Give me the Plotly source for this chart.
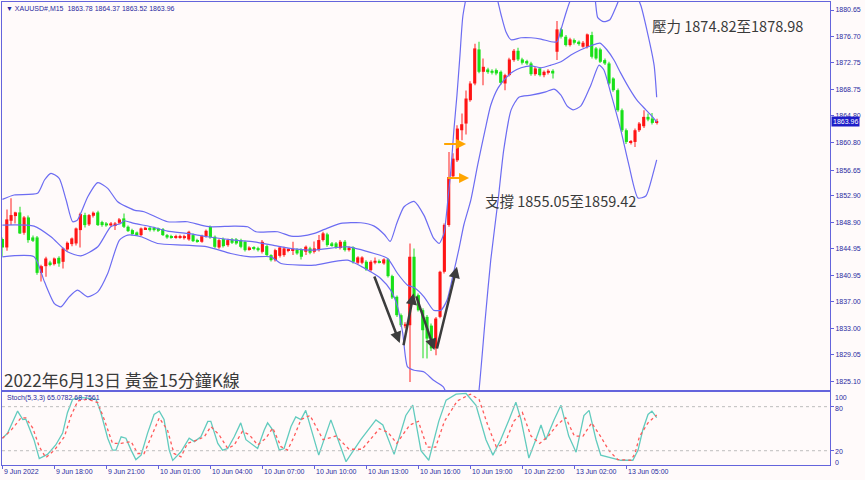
import plotly.graph_objects as go

# ---------------- data ----------------
bars = list(range(152))
open_ = [1846.35,1845.10,1849.10,1849.80,1850.35,1847.30,1849.60,1846.60,1846.60,1841.30,
1842.30,1842.85,1842.60,1843.55,1842.95,1844.80,1845.60,1845.70,1847.70,1849.95,
1848.55,1849.85,1850.35,1848.90,1848.70,1848.40,1848.45,1848.80,1849.45,1848.20,
1847.70,1847.35,1846.95,1847.85,1848.05,1848.05,1847.95,1847.85,1846.95,1846.80,
1846.60,1846.55,1846.50,1846.30,1846.95,1846.20,1845.95,1846.80,1848.20,1846.70,
1845.10,1846.35,1845.45,1846.30,1846.30,1846.20,1845.95,1844.85,1845.10,1845.00,
1844.45,1845.30,1843.95,1843.20,1843.85,1843.96,1844.61,1844.61,1844.81,1844.81,
1844.46,1844.96,1844.46,1844.71,1846.21,1847.06,1845.71,1845.71,1845.01,1845.96,
1844.71,1845.11,1842.81,1842.81,1842.96,1841.71,1842.81,1843.06,1842.71,1843.31,
1840.81,1837.71,1834.96,1833.31,1833.46,1843.71,1837.96,1835.71,1834.71,1833.40,
1830.00,1834.71,1841.46,1848.46,1855.75,1858.15,1862.65,1863.65,1867.15,1869.65,
1874.75,1871.40,1871.75,1871.55,1871.65,1871.40,1869.65,1870.90,1873.15,1874.55,
1873.25,1873.00,1872.65,1871.05,1871.90,1870.90,1871.25,1871.55,1874.40,1877.75,
1876.65,1875.40,1876.15,1875.90,1875.15,1875.15,1876.90,1874.90,1874.75,1873.15,
1872.65,1870.40,1868.65,1865.65,1862.65,1860.75,1860.90,1862.65,1863.25,1864.65,
1864.40,1863.78]
high = [1846.60,1850.80,1852.45,1850.45,1851.20,1849.80,1849.90,1846.90,1846.80,1842.50,
1843.70,1843.10,1843.60,1843.80,1845.10,1846.00,1846.60,1848.10,1850.30,1850.30,
1850.10,1850.50,1850.60,1849.10,1848.90,1848.90,1848.90,1849.50,1850.20,1848.40,
1847.90,1847.50,1848.10,1848.20,1848.20,1848.20,1848.10,1848.00,1847.10,1847.00,
1847.00,1847.00,1847.00,1847.60,1847.20,1846.40,1847.00,1847.80,1848.40,1846.90,
1846.40,1846.60,1846.40,1846.50,1846.50,1846.40,1846.10,1845.30,1845.30,1845.20,
1846.20,1845.50,1844.10,1844.90,1845.30,1845.20,1845.00,1845.96,1845.00,1845.00,
1845.40,1845.20,1846.00,1846.96,1847.46,1847.30,1845.90,1845.90,1846.21,1846.20,
1845.30,1845.30,1843.80,1843.80,1843.20,1843.20,1843.61,1843.30,1843.50,1843.50,
1841.00,1837.90,1835.20,1833.90,1845.71,1844.96,1838.20,1836.00,1835.00,1833.70,
1834.70,1841.60,1848.70,1859.40,1859.20,1863.40,1865.15,1868.60,1870.00,1875.60,
1875.90,1873.40,1872.00,1871.80,1871.90,1871.60,1871.10,1873.50,1874.80,1875.00,
1873.50,1873.20,1872.90,1872.10,1872.10,1871.60,1871.80,1871.80,1879.00,1878.00,
1876.90,1876.50,1876.40,1876.10,1876.00,1877.15,1877.40,1875.10,1875.00,1873.40,
1872.90,1870.60,1868.90,1865.90,1862.90,1861.20,1862.90,1863.90,1865.65,1865.15,
1865.25,1864.37]
low = [1843.70,1844.60,1848.45,1848.70,1847.10,1847.00,1845.80,1845.90,1841.00,1840.00,
1840.70,1842.30,1842.40,1842.20,1841.95,1844.50,1845.30,1845.40,1845.10,1848.10,
1848.30,1849.60,1848.30,1848.20,1848.20,1848.20,1847.70,1848.60,1848.00,1847.40,
1846.90,1846.80,1846.80,1847.70,1847.50,1847.50,1847.40,1846.80,1846.40,1846.40,
1846.40,1846.40,1846.30,1846.10,1845.90,1845.80,1845.80,1846.60,1846.40,1845.00,
1844.90,1845.10,1845.20,1845.60,1845.50,1845.00,1844.50,1844.60,1844.70,1844.50,
1844.20,1843.80,1843.00,1843.00,1843.60,1843.70,1844.40,1843.96,1844.00,1843.30,
1843.96,1844.10,1844.20,1844.50,1846.00,1845.20,1845.20,1844.90,1844.80,1844.50,
1844.50,1842.70,1842.60,1842.60,1841.60,1841.50,1842.60,1842.70,1842.50,1840.60,
1837.40,1834.70,1833.20,1833.00,1824.96,1837.50,1835.50,1828.50,1828.46,1829.60,
1828.96,1834.50,1841.20,1848.20,1855.50,1857.90,1861.15,1862.00,1866.90,1869.40,
1871.20,1869.40,1871.10,1871.00,1870.90,1869.50,1868.65,1870.70,1872.90,1873.00,
1872.50,1872.40,1870.80,1870.80,1870.70,1870.60,1871.00,1870.40,1873.15,1876.40,
1875.20,1875.20,1875.50,1875.30,1875.00,1874.90,1873.40,1873.20,1872.70,1872.40,
1869.40,1868.40,1865.40,1862.40,1860.60,1860.50,1860.15,1862.40,1863.00,1864.00,
1863.50,1863.52]
close = [1845.10,1849.30,1849.95,1850.35,1847.20,1849.60,1846.20,1846.10,1841.30,1842.30,
1843.45,1842.60,1843.45,1842.70,1844.95,1845.80,1846.45,1847.95,1850.10,1848.45,
1849.95,1850.30,1848.45,1848.45,1848.40,1848.70,1848.70,1849.30,1848.20,1847.55,
1847.10,1846.95,1847.95,1848.05,1847.70,1847.70,1847.60,1846.95,1846.60,1846.60,
1846.80,1846.80,1846.80,1847.45,1846.05,1845.95,1846.80,1847.60,1846.60,1845.20,
1846.20,1845.30,1846.20,1845.80,1845.70,1845.20,1844.70,1845.10,1844.90,1844.70,
1845.95,1843.95,1843.20,1844.70,1845.10,1844.96,1844.81,1844.81,1844.21,1843.71,
1845.21,1844.31,1844.96,1846.21,1847.21,1845.46,1845.46,1845.11,1845.96,1844.71,
1845.06,1842.96,1843.61,1843.61,1841.81,1842.96,1843.11,1842.91,1843.31,1840.81,
1837.61,1834.96,1833.46,1833.61,1843.71,1837.71,1835.71,1832.71,1831.46,1830.00,
1834.46,1841.46,1848.46,1855.65,1858.40,1862.90,1863.55,1867.40,1869.65,1874.90,
1871.40,1872.15,1871.35,1871.25,1871.15,1869.75,1870.90,1873.25,1874.55,1873.25,
1872.75,1872.65,1871.05,1871.90,1870.90,1871.40,1871.55,1871.15,1877.75,1876.65,
1875.40,1876.25,1875.75,1875.55,1875.75,1877.00,1873.65,1873.40,1872.90,1872.65,
1869.65,1868.65,1865.65,1862.65,1860.90,1861.00,1862.65,1863.65,1864.65,1864.25,
1863.75,1863.96]

# Bollinger bands (read at sample bars)
ub_x = [0,2.7,8.1,9.7,11.2,13.1,14.7,16.2,17.3,19.7,22,24.3,26.6,30.4,32.7,38.1,42.7,45.8,48.1,53.5,
56.6,58.5,63.5,66.6,68.9,72,74.3,78.1,82.7,85.8,88.2,89.5,91,92.7,95,97.3,99.5,100.8,101.9,102.8,
103.5,104.2,104.9,105.6,106.3,108,111,113.5,114.4,115.1,116.2,117.4,119.7,122,124.3,126.6,128,128.9,130.3,131.7,
134,136.5,137.4,138.8,140.2,141.6,143,146,147.3,149,150.4,151]
ub_y = [1852.3,1852.95,1853.2,1855.2,1856.2,1855.45,1852.2,1848.95,1849.2,1852.7,1854.8,1853.95,1851.95,1850.7,1850.45,1848.95,1848.95,1848.45,1848.2,1848.3,
1848.2,1847.45,1847.45,1846.8,1846.8,1847.2,1847.8,1848.7,1848.8,1848.3,1847.0,1846.0,1848.7,1851.2,1852.0,1849.9,1846.5,1845.7,1847.2,1852.2,
1856.7,1862.7,1867.9,1873.9,1879.9,1885,1888,1884,1881.8,1879.9,1877.4,1876.2,1876.5,1876.5,1876.3,1875.9,1875.9,1877.7,1880.7,1883,
1884,1883,1879.5,1878.9,1879.2,1881.1,1883,1883,1881.4,1876.9,1872.4,1867.6]
mb_x = [0,7.3,11.2,15,18.1,22,25,27.3,28.1,30.4,34.3,38.1,42.7,47.3,53.5,58.1,63.5,67.3,72,79.6,
85.8,88.9,91.2,93.5,95,97.3,99.5,101.2,102.6,104,105.3,106.5,108.1,109.7,111.4,112.7,114.4,116.2,117.8,119.7,
122,124.3,126.6,128.9,131.2,133.5,135.8,137.9,139.5,141.1,142.7,144.6,146.4,148.5,150.1,151]
mb_y = [1848.45,1848.3,1846.7,1844.45,1843.85,1845.2,1848.2,1848.7,1849.1,1848.7,1848.2,1847.55,1847.2,1846.7,1846.2,1845.95,1845.3,1844.9,1844.71,1845.2,
1844.2,1843.46,1841.2,1839.46,1839.1,1837.71,1835.71,1835.71,1837.2,1840.98,1844.7,1848.5,1852.2,1857.5,1862.7,1866.4,1869,1870.5,1871.4,1872,
1872.3,1872,1872.4,1872.9,1873.9,1874.7,1875.3,1875.7,1874.7,1873.2,1871.2,1869,1867.2,1865.7,1864.6,1863.9]
lb_x = [0,7.3,9.7,12,13.5,15.4,17.3,19.7,22,24.3,27,28.9,32,35.8,42,47.3,52.7,57.3,62,64.3,
68.9,72,79.6,85,87.3,89.6,91.2,92.4,93.5,95,97.3,99.5,101.8,103.5,106,108.5,110,111.4,112.7,114.4,
115.7,117.4,119.2,122,125.4,127.3,128.9,130.3,131.7,133.5,135.8,137.7,138.8,140.4,142.7,144.6,146.7,148.5,150.1,151]
lb_y = [1843.7,1843.7,1839.95,1836.7,1836.2,1837.7,1838.7,1837.7,1838.45,1841.2,1846.2,1846.95,1846.7,1845.7,1845.45,1845.2,1844.2,1843.7,1843.7,1842.7,
1842.45,1842.46,1843.2,1841.46,1840.46,1838.71,1836.21,1832.21,1827.21,1826.71,1826.46,1825.21,1824.2,1821,1817,1816,1823.76,1834.2,1843.2,1852.2,
1859.7,1865.7,1867.6,1867.9,1868.4,1868.8,1867.9,1866.3,1865.7,1866.3,1869.4,1872.4,1871.7,1868.2,1862.7,1857.4,1852.5,1852.8,1856,1858.2]

# Stochastic (5,3,3)
k_x = [0,1.2,3.5,4.7,5.4,6.6,7.3,8.5,10.4,12.3,13.9,15,16.2,18.1,19.7,21.6,22.7,24.3,25.4,26.2,
27.4,28.5,29.7,30.8,32,33.5,35,36.2,37.3,38.5,39.3,41.2,43.1,44.3,45.8,47.4,48.1,49.7,50.8,52,
53.5,55,56.2,57.3,58.9,60.4,61.2,62.4,63.9,65,66.6,67.7,68.9,70,73,75.8,79.3,82.7,86.2,87.8,
90.4,93.1,94.7,96.6,98.4,100.7,102.4,104.7,107,109.3,111.6,113.2,115,116.9,118.5,119.7,121.5,123.1,124.3,125.4,
127.3,128.9,130.7,132.4,134.2,135.4,137,138.1,141.1,142.7,145.5,146.7,147.8,149,149.9,151]
k_y = [37,44,74,62.5,63,44,34.7,9.3,15,27.8,44,71.8,90,92.6,91,90,72,37,20.8,20.8,
39,37,20.8,7.9,14,44,69.4,74,62.5,20.8,6.9,18.5,37,32.4,39,60,60,30,20.8,23,
39,57.9,35,30,23,48,57.9,48,20.8,23,53,66,62.5,75,14,62,5,35,62,55,
15,68,82,20,7,60,89,97,98,82,35,14,35,62,86,62,10,35,55,35,
62,82,40,18,68,75,35,13.9,9.3,7,7,20.8,48.6,69.4,74,65.08]
d_x = [0,2,4.3,5.4,7,8.5,10,12,14.3,15.8,17.4,19.7,22,23.5,25.4,27.4,29.7,31.2,32.7,34.3,
36.2,38.1,39.6,41.2,42.7,45,46.6,48.1,50,52,53.5,55.4,57,58.9,60.8,62.4,64.3,65.8,67.3,68.9,
71,74,77,80,83,87,89,91,94,96,98,100,102,105,108,110,112,114,116,118,
120,122,124,126,128,130,132,134,136,138,140,142,145,146,147,149,151]
d_y = [37,48,64.8,64.8,50.9,25.5,10.6,20.8,39,67,88,90,85.6,62.5,30,30,32.4,16.2,16.2,39,
64.8,48,16.2,11.6,30,34.7,39,53,41.7,23,27.8,46.3,41.7,27.8,37,50.9,25.5,20.8,39,62.5,
68,35,40,22,22,50,45,30,55,60,25,25,60,88,97,90,55,25,30,60,
72,40,30,40,55,65,40,40,58,40,20,8,7,16,39,58,68.76]

price_ticks = [1880.65,1876.70,1872.75,1868.75,1864.80,1860.80,1856.65,1852.90,1848.90,
               1844.95,1840.95,1837.00,1833.00,1829.05,1825.10]
time_tick_bars = [0,12,24,36,48,60,72,84,96,108,120,132,144]
time_tick_labels = ["9 Jun 2022","9 Jun 18:00","9 Jun 21:00","10 Jun 01:00","10 Jun 04:00",
                    "10 Jun 07:00","10 Jun 10:00","10 Jun 13:00","10 Jun 16:00","10 Jun 19:00",
                    "10 Jun 22:00","13 Jun 02:00","13 Jun 05:00"]
last_price = 1863.96

# ---------------- styling ----------------
W, H = 865, 480
BG = "#FFFAFA"
AX = "#6464DC"
TXT = "#2A2AA0"
FONT = "Liberation Sans"
def fx(p): return p / W
def fy(p): return 1 - p / H
XL, XR = fx(2), fx(830)

fig = go.Figure()

up = [c >= o for o, c in zip(open_, close)]
body_base = [min(o, c) for o, c in zip(open_, close)]
body_h = [max(abs(c - o), 0.13) for o, c in zip(open_, close)]
wick_h = [h - l for h, l in zip(high, low)]
col_body = ["#FF1414" if u else "#18E018" for u in up]
col_wick = ["#FF8C8C" if u else "#8CEB8C" for u in up]

fig.add_trace(go.Bar(x=bars, y=wick_h, base=low, width=0.25,
                     marker=dict(color=col_wick, line=dict(width=0)), hoverinfo="skip"))
fig.add_trace(go.Bar(x=bars, y=body_h, base=body_base, width=0.72,
                     marker=dict(color=col_body, line=dict(width=0)), hoverinfo="skip"))

band_line = dict(color="#6C6CF2", width=1.2, shape="spline", smoothing=0.6)
for bx, by in ((ub_x, ub_y), (mb_x, mb_y), (lb_x, lb_y)):
    fig.add_trace(go.Scatter(x=bx, y=by, mode="lines", line=band_line, hoverinfo="skip"))

fig.add_trace(go.Scatter(x=k_x, y=k_y, mode="lines", xaxis="x2", yaxis="y2",
                         line=dict(color="#62CBBE", width=1.3), hoverinfo="skip"))
fig.add_trace(go.Scatter(x=d_x, y=d_y, mode="lines", xaxis="x2", yaxis="y2",
                         line=dict(color="#FF5A5A", width=1.3, dash="dot"), hoverinfo="skip"))

xr = [-0.1, 191.0]
fig.update_layout(
    width=W, height=H, margin=dict(l=0, r=0, t=0, b=0),
    paper_bgcolor=BG, plot_bgcolor=BG, showlegend=False, barmode="overlay",
    xaxis=dict(domain=[XL, XR], range=xr, anchor="y", showline=True, mirror=True,
               linecolor=AX, linewidth=1, showticklabels=False, ticks="",
               showgrid=False, zeroline=False),
    yaxis=dict(domain=[fy(390), fy(2)], range=[1823.76, 1881.85], side="right", anchor="x",
               tickvals=price_ticks, ticktext=[f"{v:.2f}" for v in price_ticks],
               ticks="outside", ticklen=3, tickcolor=AX, showline=True, mirror=True,
               linecolor=AX, showgrid=False, zeroline=False,
               tickfont=dict(family=FONT, size=7, color=TXT)),
    xaxis2=dict(domain=[XL, XR], range=xr, anchor="y2", showline=True, mirror=True,
                linecolor=AX, ticks="outside", ticklen=3, tickcolor=AX,
                tickvals=time_tick_bars, showticklabels=False, showgrid=False, zeroline=False),
    yaxis2=dict(domain=[fy(465.4), fy(392)], range=[0, 100], side="right", anchor="x2",
                showline=True, mirror=True, linecolor=AX, ticks="outside", ticklen=3,
                tickcolor=AX, tickvals=[20, 80], showticklabels=False,
                showgrid=False, zeroline=False),
)

for lvl in (20, 80):
    fig.add_shape(type="line", xref="paper", x0=XL, x1=XR, yref="y2", y0=lvl, y1=lvl,
                  line=dict(color="#BDBDBD", width=1, dash="dot"))

ann = []
small = dict(family=FONT, size=7, color=TXT)
ann.append(dict(x=fx(4), y=fy(8), xref="paper", yref="paper", xanchor="left", yanchor="middle",
                text="▼ XAUUSD#,M15  1863.78 1864.37 1863.52 1863.96", showarrow=False, font=small))
ann.append(dict(x=fx(5), y=fy(398), xref="paper", yref="paper", xanchor="left", yanchor="middle",
                text="Stoch(5,3,3) 65.0782 68.7561", showarrow=False, font=small))
for t, py in (("100", 397), ("80", 408), ("20", 451), ("0", 462)):
    ann.append(dict(x=fx(833), y=fy(py), xref="paper", yref="paper", xanchor="left",
                    yanchor="middle", text=t, showarrow=False, font=small))
for b, lab in zip(time_tick_bars, time_tick_labels):
    ann.append(dict(x=b, xref="x2", y=fy(471), yref="paper", xanchor="left", yanchor="middle",
                    text=lab, showarrow=False, font=small, xshift=0))
ann.append(dict(x=fx(830.5), xref="paper", y=last_price, yref="y", xanchor="left",
                yanchor="middle", text="1863.96", showarrow=False, bgcolor="#1E1EC8",
                borderpad=1, font=dict(family=FONT, size=7, color="white")))

cjk_big = dict(family="Noto Sans CJK TC", size=17, color="#3A3A3A")
cjk = dict(family="Noto Sans CJK TC", size=14.5, color="#3A3A3A")
ann.append(dict(x=fx(3), y=fy(390), xref="paper", yref="paper", xanchor="left", yanchor="bottom",
                text="2022年6月13日 黃金15分鐘K線", showarrow=False, font=cjk_big, borderpad=0,
                yshift=-3))
ann.append(dict(x=fx(650), y=fy(25), xref="paper", yref="paper", xanchor="left", yanchor="middle",
                text="壓力 1874.82至1878.98", showarrow=False, font=cjk))
ann.append(dict(x=fx(483), y=fy(200), xref="paper", yref="paper", xanchor="left", yanchor="middle",
                text="支撐 1855.05至1859.42", showarrow=False, font=cjk))

# drawn arrows (W pattern) and support markers
for (hx, hy, tx, ty) in ((91.7, 1830.8, 85.7, 1840.98), (94.9, 1838.24, 92.5, 1830.25),
                         (99.7, 1829.75, 95.4, 1837.99), (104.9, 1842.22, 100.2, 1829.75)):
    ann.append(dict(x=hx, y=hy, ax=tx, ay=ty, xref="x", yref="y", axref="x", ayref="y",
                    text="", showarrow=True, arrowhead=2, arrowsize=0.9, arrowwidth=2.5,
                    arrowcolor="#3C3C3C"))
for (hx, hy, tx) in ((107.0, 1860.59, 101.6), (107.7, 1855.5, 102.4)):
    ann.append(dict(x=hx, y=hy, ax=tx, ay=hy, xref="x", yref="y", axref="x", ayref="y",
                    text="", showarrow=True, arrowhead=2, arrowsize=1, arrowwidth=2,
                    arrowcolor="#FFA500"))

fig.update_layout(annotations=ann)
fig.write_html("out.html", config={"displayModeBar": False},
               post_script="document.body.style.margin='0';document.body.style.padding='0';document.body.style.overflow='hidden';")
